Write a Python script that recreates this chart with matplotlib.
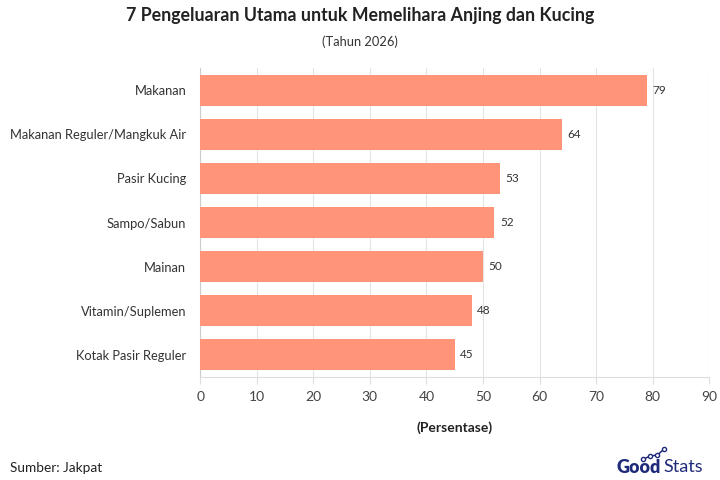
import matplotlib
matplotlib.use("Agg")
import matplotlib.pyplot as plt
from matplotlib.lines import Line2D

categories = ["Makanan", "Makanan Reguler/Mangkuk Air", "Pasir Kucing", "Sampo/Sabun",
              "Mainan", "Vitamin/Suplemen", "Kotak Pasir Reguler"]
values = [79, 64, 53, 52, 50, 48, 45]
xticks = [0, 10, 20, 30, 40, 50, 60, 70, 80, 90]

plt.rcParams['font.family'] = ['Lato', 'DejaVu Sans']

fig = plt.figure(figsize=(7.2, 4.8), dpi=100)
ax = fig.add_axes([0.278, 0.2146, 0.707, 0.6437])

bar_color = "#FF9479"
ypos = list(range(len(categories)))
ax.barh(ypos, values, height=0.7, color=bar_color, zorder=3)
for y, v in zip(ypos, values):
    ax.text(v + 1.0, y, f"{v}", va="center", ha="left", fontsize=8.5, color="#333333")

ax.set_ylim(6.5, -0.5)
ax.set_xlim(0, 90)
ax.set_yticks(ypos)
ax.set_yticklabels(categories, fontsize=9.3, color="#333333")
ax.set_xticks(xticks)
ax.set_xticklabels([str(t) for t in xticks], fontsize=10, color="#444444")
ax.tick_params(axis="y", length=0, pad=10)
ax.tick_params(axis="x", length=5, color="#dddddd", pad=5)
ax.grid(axis="x", color="#e3e3e3", linewidth=0.8, zorder=0)
for s in ["top", "right"]:
    ax.spines[s].set_visible(False)
ax.spines["left"].set_color("#cccccc")
ax.spines["bottom"].set_color("#dddddd")
ax.set_xlabel("(Persentase)", fontsize=10, fontweight="bold", color="#222222", labelpad=13)

fig.text(0.5, 0.968, "7 Pengeluaran Utama untuk Memelihara Anjing dan Kucing",
         ha="center", va="center", fontsize=12.8, fontweight="bold", color="#222222")
fig.text(0.5, 0.913, "(Tahun 2026)", ha="center", va="center", fontsize=9.3, color="#333333")
fig.text(0.014, 0.025, "Sumber: Jakpat", ha="left", va="center", fontsize=9.8, color="#222222")

navy = "#1f2a7a"
fig.text(0.856, 0.027, "Good", ha="left", va="center", fontsize=13, fontweight="heavy", color=navy)
fig.text(0.921, 0.027, "Stats", ha="left", va="center", fontsize=13, fontweight="normal", color=navy)
xs = [0.893, 0.903, 0.913, 0.922]
ys = [0.043, 0.050, 0.052, 0.064]
fig.add_artist(Line2D(xs, ys, color=navy, linewidth=1.1, marker="o", markersize=3,
                      markerfacecolor="white", markeredgecolor=navy, transform=fig.transFigure))

fig.savefig("out.png", dpi=100)
